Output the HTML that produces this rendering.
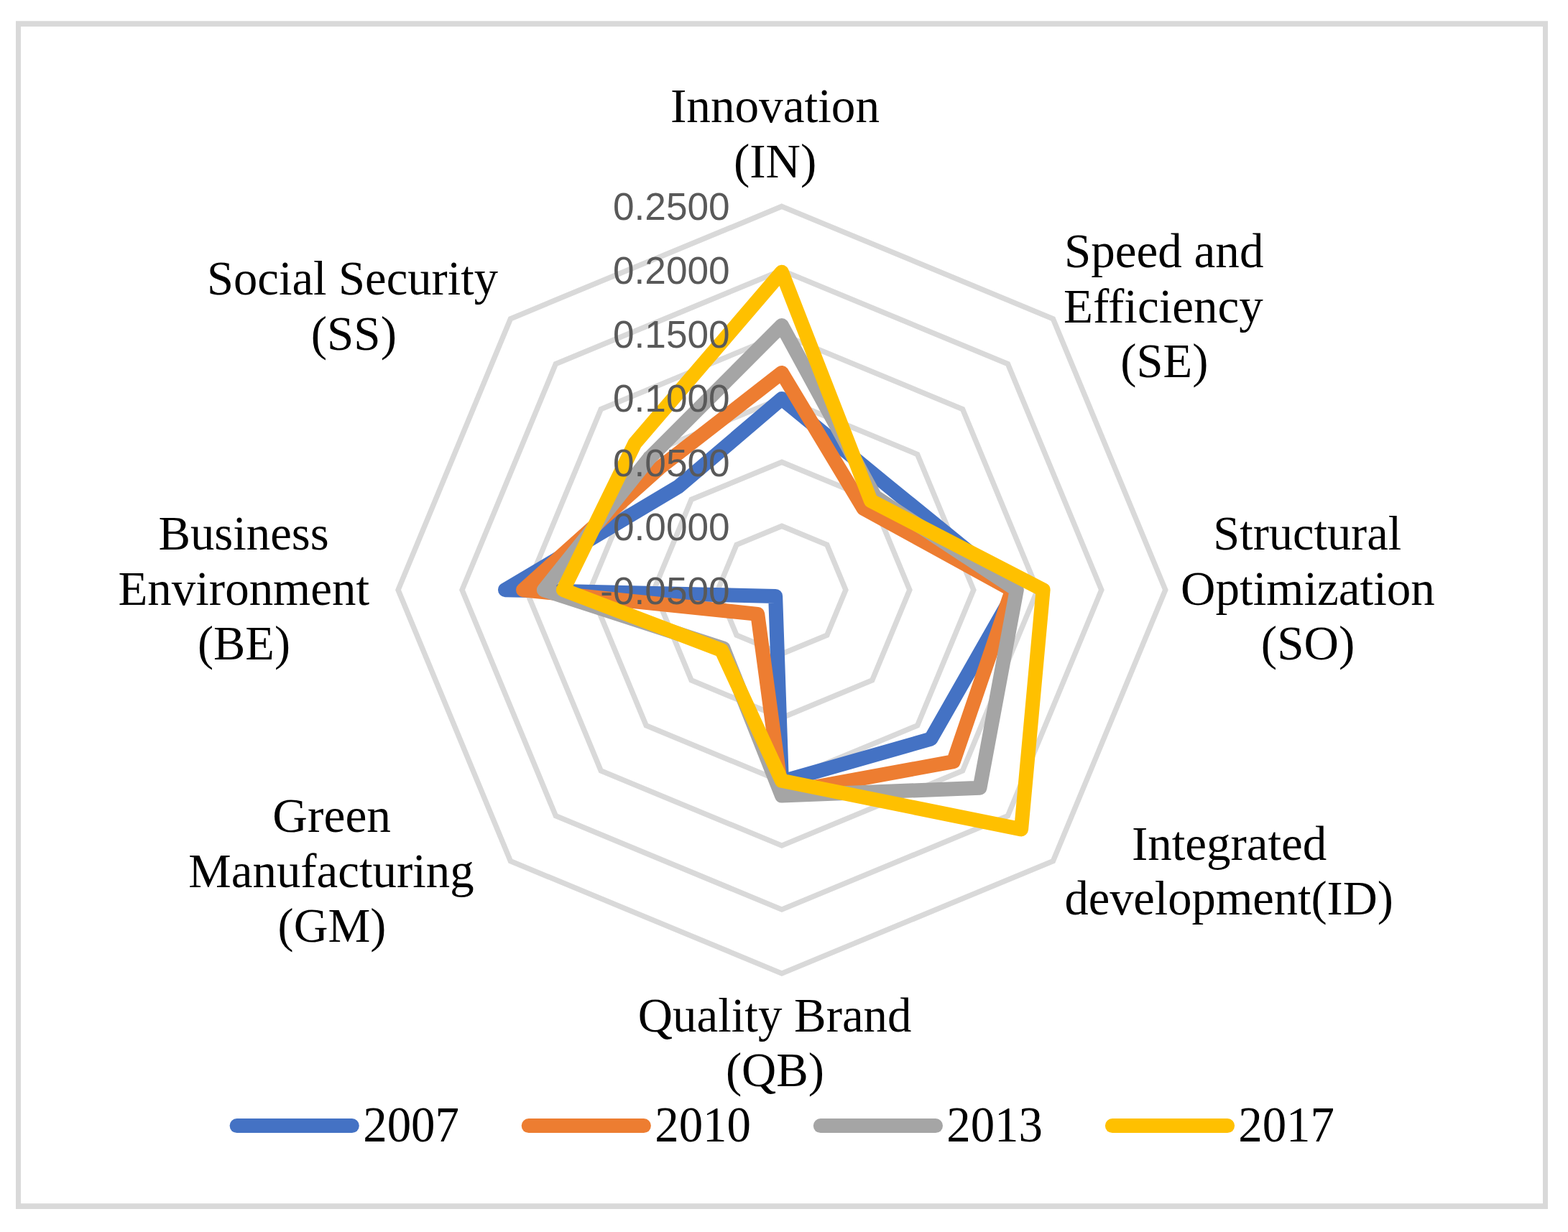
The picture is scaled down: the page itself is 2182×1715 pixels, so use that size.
<!DOCTYPE html>
<html lang="en"><head><meta charset="utf-8"><title>Radar chart</title>
<style>
html,body{margin:0;padding:0;background:#fff;}
body{width:2182px;height:1715px;overflow:hidden;}
svg{display:block;}
.cat{font-family:"Liberation Serif",serif;font-size:67.0px;fill:#000;text-anchor:middle;}
.leg{font-family:"Liberation Serif",serif;font-size:66.9px;fill:#000;text-anchor:start;}
.ax{font-family:"Liberation Sans",sans-serif;font-size:53.2px;fill:#595959;text-anchor:end;}
</style></head><body>
<svg width="2182" height="1715" viewBox="0 0 2182 1715">
<rect x="0" y="0" width="2182" height="1715" fill="#ffffff"/>
<path fill="#D9D9D9" fill-rule="evenodd" d="M22,29.2H2154V1682.9H22Z M29,37H2147V1675.2H29Z"/>
<g fill="none" stroke="#D9D9D9" stroke-width="7.4" stroke-linejoin="miter">
<polygon points="1087.90,732.23 1150.81,758.29 1176.88,821.20 1150.81,884.11 1087.90,910.18 1024.99,884.11 998.93,821.20 1024.99,758.29"/>
<polygon points="1087.90,643.25 1213.73,695.37 1265.85,821.20 1213.73,947.03 1087.90,999.15 962.07,947.03 909.95,821.20 962.07,695.37"/>
<polygon points="1087.90,554.28 1276.64,632.46 1354.83,821.20 1276.64,1009.94 1087.90,1088.12 899.16,1009.94 820.98,821.20 899.16,632.46"/>
<polygon points="1087.90,465.30 1339.56,569.54 1443.80,821.20 1339.56,1072.86 1087.90,1177.10 836.24,1072.86 732.00,821.20 836.24,569.54"/>
<polygon points="1087.90,376.33 1402.47,506.63 1532.78,821.20 1402.47,1135.77 1087.90,1266.08 773.33,1135.77 643.03,821.20 773.33,506.63"/>
<polygon points="1087.90,287.35 1465.39,443.71 1621.75,821.20 1465.39,1198.69 1087.90,1355.05 710.41,1198.69 554.05,821.20 710.41,443.71"/>
</g>
<g fill="none" stroke-width="20" stroke-linejoin="round" stroke-linecap="round">
<polygon stroke="#4472C4" points="1087.90,555.00 1233.99,675.11 1413.50,821.20 1295.37,1028.67 1087.90,1087.90 1079.13,829.97 703.00,821.20 944.15,677.45"/>
<polygon stroke="#ED7D31" points="1087.90,518.90 1201.46,707.64 1408.30,821.20 1326.83,1060.13 1087.90,1104.20 1054.24,854.86 728.05,821.20 917.91,651.21"/>
<polygon stroke="#A5A5A5" points="1087.90,453.00 1217.65,691.45 1414.80,821.20 1363.46,1096.76 1087.90,1107.60 1006.58,902.52 756.90,821.20 904.05,637.35"/>
<polygon stroke="#FFC000" points="1087.90,378.80 1211.86,697.24 1451.60,821.20 1421.09,1154.39 1087.90,1086.80 1004.04,905.06 783.90,821.20 883.62,616.92"/>
</g>
<g class="ax" transform="translate(1015.65,0) scale(1.0000,1)">
<text x="0" y="840.80">-0.0500</text>
<text x="0" y="751.65">0.0000</text>
<text x="0" y="662.50">0.0500</text>
<text x="0" y="573.35">0.1000</text>
<text x="0" y="484.20">0.1500</text>
<text x="0" y="395.05">0.2000</text>
<text x="0" y="305.90">0.2500</text>
</g>
<g class="cat">
<text transform="translate(1078.48,170.10) scale(1.0030,1)" x="0" y="0">Innovation</text>
<text transform="translate(1078.55,247.00) scale(1.0000,1)" x="0" y="0">(IN)</text>
<text transform="translate(1619.71,372.10) scale(1.0008,1)" x="0" y="0">Speed and</text>
<text transform="translate(1618.89,448.60) scale(1.0002,1)" x="0" y="0">Efficiency</text>
<text transform="translate(1620.33,525.10) scale(0.9937,1)" x="0" y="0">(SE)</text>
<text transform="translate(1819.20,764.80) scale(0.9911,1)" x="0" y="0">Structural</text>
<text transform="translate(1819.98,841.60) scale(1.0008,1)" x="0" y="0">Optimization</text>
<text transform="translate(1820.08,917.90) scale(1.0012,1)" x="0" y="0">(SO)</text>
<text transform="translate(1710.62,1197.20) scale(0.9996,1)" x="0" y="0">Integrated</text>
<text transform="translate(1710.15,1273.30) scale(0.9914,1)" x="0" y="0">development(ID)</text>
<text transform="translate(1078.10,1435.60) scale(0.9981,1)" x="0" y="0">Quality Brand</text>
<text transform="translate(1078.48,1512.00) scale(0.9966,1)" x="0" y="0">(QB)</text>
<text transform="translate(461.66,1158.00) scale(1.0063,1)" x="0" y="0">Green</text>
<text transform="translate(461.01,1235.00) scale(0.9980,1)" x="0" y="0">Manufacturing</text>
<text transform="translate(461.95,1311.40) scale(0.9878,1)" x="0" y="0">(GM)</text>
<text transform="translate(339.05,764.90) scale(0.9961,1)" x="0" y="0">Business</text>
<text transform="translate(339.20,842.00) scale(0.9994,1)" x="0" y="0">Environment</text>
<text transform="translate(339.50,917.60) scale(0.9904,1)" x="0" y="0">(BE)</text>
<text transform="translate(490.50,410.00) scale(0.9940,1)" x="0" y="0">Social Security</text>
<text transform="translate(492.38,486.80) scale(1.0005,1)" x="0" y="0">(SS)</text>
</g>
<g>
<line x1="329.6" y1="1567.1" x2="489.8" y2="1567.1" stroke="#4472C4" stroke-width="20" stroke-linecap="round"/>
<text class="leg" transform="translate(505.20,1588.60) scale(1,1.038)" x="0" y="0">2007</text>
<line x1="735.7" y1="1567.1" x2="895.9" y2="1567.1" stroke="#ED7D31" stroke-width="20" stroke-linecap="round"/>
<text class="leg" transform="translate(911.20,1588.60) scale(1,1.038)" x="0" y="0">2010</text>
<line x1="1141.8" y1="1567.1" x2="1302.0" y2="1567.1" stroke="#A5A5A5" stroke-width="20" stroke-linecap="round"/>
<text class="leg" transform="translate(1317.20,1588.60) scale(1,1.038)" x="0" y="0">2013</text>
<line x1="1547.9" y1="1567.1" x2="1708.1" y2="1567.1" stroke="#FFC000" stroke-width="20" stroke-linecap="round"/>
<text class="leg" transform="translate(1723.20,1588.60) scale(1,1.038)" x="0" y="0">2017</text>
</g>
</svg></body></html>
